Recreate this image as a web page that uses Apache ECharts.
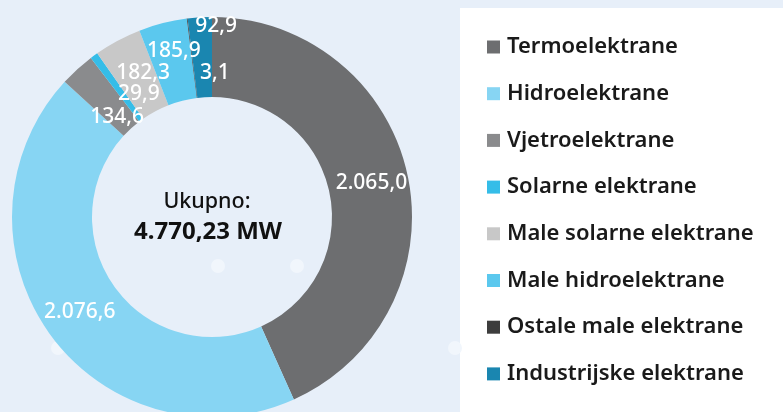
<!DOCTYPE html>
<html>
<head>
<meta charset="utf-8">
<script src="https://cdn.jsdelivr.net/npm/echarts@6/dist/echarts.min.js"></script>
<style>
html,body{margin:0;padding:0;background:#e7eff9;}
#chart{width:783px;height:412px;}
</style>
</head>
<body>
<div id="chart"></div>
<script>
const categories = ["Termoelektrane","Hidroelektrane","Vjetroelektrane","Solarne elektrane","Male solarne elektrane","Male hidroelektrane","Ostale male elektrane","Industrijske elektrane"];
const values = [2065.0, 2076.6, 134.6, 29.9, 182.3, 185.9, 3.1, 92.9];
const valueLabels = ["2.065,0","2.076,6","134,6","29,9","182,3","185,9","3,1","92,9"];
const colors = ["#6d6e70","#87d5f3","#8a8b8d","#35bde8","#c8c8c8","#5bc8ee","#3d3d3d","#1a86b0"];
const labelOffsets = [[0,0],[0,0],[15,20],[23,9],[8,0],[2,-8],[23,18],[14,-28]];
const centerTitle = "Ukupno:";
const centerTotal = "4.770,23 MW";

const font = "'Noto Sans', sans-serif";
const chart = echarts.init(document.getElementById('chart'));
const dots = [[218,266],[297,266],[58,348],[455,348]];
chart.setOption({
  backgroundColor: '#e7eff9',
  animation: false,
  color: colors,
  graphic: [
    {type:'rect', z:0, shape:{x:460,y:8,width:323,height:404}, style:{fill:'#ffffff'}},
    ...dots.map(d => ({type:'circle', z:0, shape:{cx:d[0],cy:d[1],r:7}, style:{fill:'#f1f6fc'}})),
    {type:'text', z:10, style:{x:207,y:202,text:centerTitle,textAlign:'center',textVerticalAlign:'middle',fontSize:21.5,fontWeight:500,fontFamily:font,fill:'#111'}},
    {type:'text', z:10, style:{x:208,y:232,text:centerTotal,textAlign:'center',textVerticalAlign:'middle',fontSize:24,fontWeight:'bold',fontFamily:font,fill:'#111'}}
  ],
  legend: {
    orient:'vertical',
    left:487, top:36,
    padding:0,
    icon:'rect',
    itemWidth:13, itemHeight:13,
    itemGap:24.7,
    textStyle:{fontSize:22, lineHeight:22, fontFamily:font, color:'#1a1a1a', fontWeight:600, padding:[0,0,0,2]},
    data: categories
  },
  series: [{
    type:'pie',
    center:[212,217],
    radius:[120,200],
    startAngle:90,
    avoidLabelOverlap:false,
    silent:true,
    label:{show:true, position:'inside', color:'#fff', fontSize:21, fontWeight:500, fontFamily:font},
    labelLine:{show:false},
    data: categories.map((c,i)=>({
      name:c, value:values[i],
      itemStyle:{color:colors[i]},
      label:{formatter:valueLabels[i], offset:labelOffsets[i]}
    }))
  }]
});
</script>
</body>
</html>
